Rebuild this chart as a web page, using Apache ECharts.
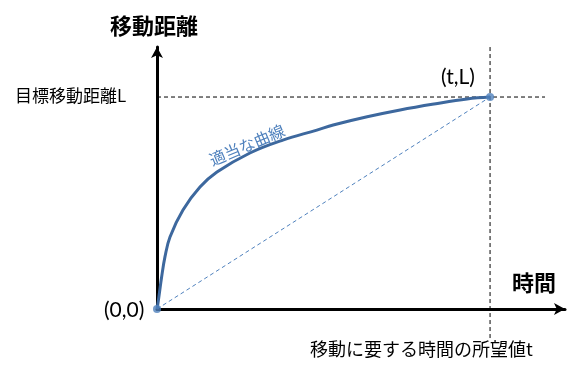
<!DOCTYPE html>
<html><head><meta charset="utf-8">
<script src="https://cdn.jsdelivr.net/npm/echarts@6/dist/echarts.min.js"></script>
<style>html,body{margin:0;padding:0;background:#fff}#c{width:575px;height:373px}</style>
</head><body><div id="c"></div>
<script>
// Data (x: time, t = 100; y: distance, L = 100)
const curveX = [0, 0.3, 1.4, 2.4, 3.9, 7.8, 12.9, 18.0, 27.9, 37.8, 48.0, 52.9, 63.1, 73.0, 83.2, 93.1, 100];
const curveY = [0, 2.8, 15.2, 24.7, 34.0, 46.7, 57.5, 64.6, 73.6, 79.7, 84.4, 86.8, 90.7, 93.9, 96.7, 99.1, 100];
const targetT = 100;
const targetL = 100;
const hGuideX = [-4.2, 116.5];
const vGuideY = [-13.7, 124];
const xMax = 122.5;
const yMax = 123.6;

const chart = echarts.init(document.getElementById('c'), null, {renderer: 'canvas'});
const cjk = '"Noto Sans CJK JP", sans-serif';
const axisCommon = {
  type: 'value', splitLine: {show: false}, axisTick: {show: false}, axisLabel: {show: false},
  axisLine: {show: true, onZero: false, symbol: ['none', 'arrow'], symbolSize: [9, 11],
    lineStyle: {color: '#000', width: 3}}
};
chart.setOption({
  animation: false,
  grid: {left: 157, top: 47, right: 10, bottom: 64},
  xAxis: Object.assign({}, axisCommon, {min: 0, max: xMax}),
  yAxis: Object.assign({}, axisCommon, {min: 0, max: yMax}),
  series: [
    {type: 'line', data: [[hGuideX[0], targetL], [hGuideX[1], targetL]], clip: false, showSymbol: false,
      lineStyle: {color: '#000', width: 1, type: [4, 3]}, z: 1},
    {type: 'line', data: [[targetT, vGuideY[0]], [targetT, vGuideY[1]]], clip: false, showSymbol: false,
      lineStyle: {color: '#000', width: 1, type: [4, 3]}, z: 1},
    {type: 'line', data: [[0, 0], [targetT, targetL]], showSymbol: false,
      lineStyle: {color: '#4f81bd', width: 1, type: [4, 3]}, z: 2},
    {type: 'line', data: curveX.map((x, i) => [x, curveY[i]]), smooth: 0.4, showSymbol: false,
      lineStyle: {color: '#3d689e', width: 3}, z: 3},
    {type: 'scatter', data: [[0, 0], [targetT, targetL]], symbolSize: 8, clip: false,
      itemStyle: {color: '#4f81bd'}, z: 5}
  ],
  graphic: [
    {type: 'text', left: 110, top: 15, style: {text: '移動距離', font: 'bold 22px ' + cjk, fill: '#000'}},
    {type: 'text', left: 512, top: 272, style: {text: '時間', font: 'bold 22px ' + cjk, fill: '#000'}},
    {type: 'text', left: 15, top: 87, style: {text: '目標移動距離L', font: '17px ' + cjk, fill: '#000'}},
    {type: 'text', left: 310, top: 340, style: {text: '移動に要する時間の所望値t', font: '18px ' + cjk, fill: '#000'}},
    {type: 'text', left: 104, top: 300, style: {text: '(0,0)', font: '21px Lato, sans-serif', fill: '#000'}},
    {type: 'text', left: 441, top: 67, style: {text: '(t,L)', font: '21px Lato, sans-serif', fill: '#000'}},
    {type: 'text', x: 247, y: 145, rotation: 23 * Math.PI / 180,
      style: {text: '適当な曲線', font: '16px ' + cjk, fill: '#4f81bd', align: 'center', verticalAlign: 'middle'}}
  ]
});
</script></body></html>
